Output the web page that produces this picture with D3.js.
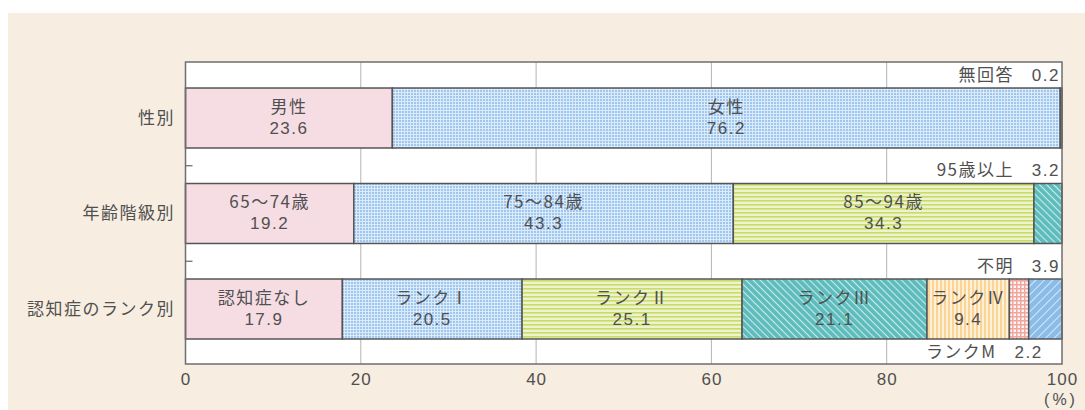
<!DOCTYPE html>
<html>
<head>
<meta charset="utf-8">
<script src="https://cdn.jsdelivr.net/npm/d3@7"></script>
<style>
  html, body { margin: 0; padding: 0; background: #fff; }
  svg { display: block; }
  text { font-family: "Noto Sans CJK JP", "Noto Sans", sans-serif; fill: #505050; }
  .num { font-family: "Liberation Sans", "DejaVu Sans", sans-serif; }
</style>
</head>
<body>
<svg id="chart" width="1085" height="410"></svg>
<script>
// Row categories
const categories = ["性別", "年齢階級別", "認知症のランク別"];

// Sex breakdown (%)
const sexNames = ["男性", "女性", "無回答"];
const sexValues = [23.6, 76.2, 0.2];

// Age group breakdown (%)
const ageNames = ["65～74歳", "75～84歳", "85～94歳", "95歳以上"];
const ageValues = [19.2, 43.3, 34.3, 3.2];

// Dementia rank breakdown (%)
const rankNames = ["認知症なし", "ランクⅠ", "ランクⅡ", "ランクⅢ", "ランクⅣ", "ランクM", "不明"];
const rankValues = [17.9, 20.5, 25.1, 21.1, 9.4, 2.2, 3.9];

// Axis ticks
const xTicks = [0, 20, 40, 60, 80, 100];

// Fill style per segment, and where small segments get their label
const sexFills = ["pink", "blueGrid", "tealHatch"];
const ageFills = ["pink", "blueGrid", "limeStripe", "tealHatch"];
const rankFills = ["pink", "blueGrid", "limeStripe", "tealHatch", "orangeStripe", "redGrid", "blueHatch"];
const sexLabelPos = ["in", "in", "above"];
const ageLabelPos = ["in", "in", "in", "above"];
const rankLabelPos = ["in", "in", "in", "in", "in", "below", "above"];

const rows = [
  { cat: categories[0], names: sexNames, values: sexValues, fills: sexFills, pos: sexLabelPos },
  { cat: categories[1], names: ageNames, values: ageValues, fills: ageFills, pos: ageLabelPos },
  { cat: categories[2], names: rankNames, values: rankValues, fills: rankFills, pos: rankLabelPos }
];

const svg = d3.select("#chart");

// Page panel
svg.append("rect").attr("x", 8).attr("y", 13).attr("width", 1077).attr("height", 397).attr("fill", "#f7ede0");

// ---- patterns ----
const defs = svg.append("defs");
function pat(id, w, h) {
  return defs.append("pattern").attr("id", id).attr("patternUnits", "userSpaceOnUse")
    .attr("width", w).attr("height", h);
}
// blue fine grid
let p = pat("blueGrid", 3, 3);
p.append("rect").attr("width", 3).attr("height", 3).attr("fill", "#9ec6ee");
p.append("rect").attr("x", 2).attr("width", 1).attr("height", 3).attr("fill", "#dcebfa");
p.append("rect").attr("y", 2).attr("width", 3).attr("height", 1).attr("fill", "#dcebfa");
// lime horizontal stripes
p = pat("limeStripe", 4, 4);
p.append("rect").attr("width", 4).attr("height", 4).attr("fill", "#eef3cf");
p.append("rect").attr("y", 0).attr("width", 4).attr("height", 1.6).attr("fill", "#c9dd66");
// teal diagonal hatch, lines running down to the right
p = pat("tealHatch", 5, 5).attr("patternTransform", "rotate(45)");
p.append("rect").attr("width", 5).attr("height", 5).attr("fill", "#5dbcbc");
p.append("rect").attr("width", 5).attr("height", 1.1).attr("fill", "#cdeaea");
// orange vertical stripes
p = pat("orangeStripe", 4, 4);
p.append("rect").attr("width", 4).attr("height", 4).attr("fill", "#fff0d6");
p.append("rect").attr("width", 2).attr("height", 4).attr("fill", "#fad397");
// red/pink grid
p = pat("redGrid", 4, 4);
p.append("rect").attr("width", 4).attr("height", 4).attr("fill", "#fff6f3");
p.append("rect").attr("width", 1.5).attr("height", 4).attr("fill", "#f2a59c");
p.append("rect").attr("width", 4).attr("height", 1.5).attr("fill", "#f2a59c");
// blue diagonal hatch, lines running up to the right
p = pat("blueHatch", 6, 6).attr("patternTransform", "rotate(-45)");
p.append("rect").attr("width", 6).attr("height", 6).attr("fill", "#8bbce8");
p.append("rect").attr("width", 6).attr("height", 1).attr("fill", "#d4e7f8");

const fillOf = k => k === "pink" ? "#f6dde4" : `url(#${k})`;

// ---- scales ----
const plotLeft = 185.5, plotRight = 1062, plotTop = 62, plotBottom = 364;
const x = d3.scaleLinear().domain([0, 100]).range([plotLeft, plotRight]);
const y = d3.scaleBand().domain(categories).range([70.25, 356.75]).paddingInner(0.372).paddingOuter(0.186);

// plot background
svg.append("rect").attr("x", plotLeft).attr("y", plotTop)
  .attr("width", plotRight - plotLeft).attr("height", plotBottom - plotTop)
  .attr("fill", "#fff");

// vertical gridlines
svg.append("g").selectAll("line").data(xTicks.slice(1, -1)).join("line")
  .attr("x1", d => x(d)).attr("x2", d => x(d)).attr("y1", plotTop).attr("y2", plotBottom)
  .attr("stroke", "#b4b4b4").attr("stroke-width", 1);

// small ticks between categories on the left edge
const sepY = categories.slice(1).map((c, i) => (y(categories[i]) + y.bandwidth() + y(c)) / 2);
svg.append("g").selectAll("line").data(sepY).join("line")
  .attr("x1", plotLeft).attr("x2", plotLeft + 7).attr("y1", d => d).attr("y2", d => d)
  .attr("stroke", "#666").attr("stroke-width", 1.2);

// stacked bars
rows.forEach(row => {
  let acc = 0;
  const segs = row.values.map((v, i) => {
    const s = { name: row.names[i], value: v, x0: acc, x1: acc + v, fill: row.fills[i], pos: row.pos[i] };
    acc += v;
    return s;
  });
  const by = y(row.cat), bh = y.bandwidth();
  const g = svg.append("g");
  g.selectAll("rect").data(segs).join("rect")
    .attr("x", d => x(d.x0)).attr("y", by)
    .attr("width", d => Math.max(0, Math.min(x(d.x1), plotRight) - x(d.x0))).attr("height", bh)
    .attr("fill", d => fillOf(d.fill))
    .attr("stroke", "#555").attr("stroke-width", 1.5);

  // two-line labels (name, value) inside segments
  const inside = segs.filter(d => d.pos === "in");
  const cy = by + bh / 2;
  g.selectAll("text.nm").data(inside).join("text").attr("class", "nm")
    .attr("x", d => x((d.x0 + d.x1) / 2)).attr("y", cy - 11).attr("dy", "0.35em")
    .attr("text-anchor", "middle").attr("font-size", 17).attr("letter-spacing", 1.5)
    .text(d => d.name);
  g.selectAll("text.num").data(inside).join("text").attr("class", "num")
    .attr("x", d => x((d.x0 + d.x1) / 2)).attr("y", cy + 10).attr("dy", "0.35em")
    .attr("text-anchor", "middle").attr("font-size", 17).attr("letter-spacing", 1.5)
    .text(d => d.value.toFixed(1));

  // labels for thin segments, placed in the white rows
  segs.filter(d => d.pos !== "in").forEach(d => {
    const ly = d.pos === "above" ? by - 13 : by + bh + 13;
    const xe = d.pos === "above" ? plotRight - 2 : x(d.x1) + 14;
    g.append("text").attr("class", "num").attr("x", xe).attr("y", ly).attr("dy", "0.35em")
      .attr("text-anchor", "end").attr("font-size", 17).attr("letter-spacing", 1.5)
      .text(d.value.toFixed(1));
    g.append("text").attr("x", xe - 46).attr("y", ly).attr("dy", "0.35em")
      .attr("text-anchor", "end").attr("font-size", 17).attr("letter-spacing", 1.5)
      .text(d.name);
  });
});

// plot frame
svg.append("rect").attr("x", plotLeft).attr("y", plotTop)
  .attr("width", plotRight - plotLeft).attr("height", plotBottom - plotTop)
  .attr("fill", "none").attr("stroke", "#6e6e6e").attr("stroke-width", 1.5);

// category labels
svg.append("g").selectAll("text").data(categories).join("text")
  .attr("x", 175).attr("y", d => y(d) + y.bandwidth() / 2).attr("dy", "0.35em")
  .attr("text-anchor", "end").attr("font-size", 17).attr("letter-spacing", 1.5)
  .text(d => d);

// x axis
const xAxis = svg.append("g").attr("transform", `translate(0,${plotBottom})`)
  .call(d3.axisBottom(x).tickValues(xTicks).tickSize(0).tickPadding(9));
xAxis.select(".domain").remove();
xAxis.selectAll("text").attr("class", "num").attr("font-size", 17).attr("letter-spacing", 1)
  .style("font-family", "'Liberation Sans', sans-serif").attr("fill", "#505050");

svg.append("text").attr("class", "num").attr("x", 1061).attr("y", 399).attr("dy", "0.35em")
  .attr("text-anchor", "middle").attr("font-size", 16).attr("letter-spacing", 3).text("(%)");
</script>
</body>
</html>
